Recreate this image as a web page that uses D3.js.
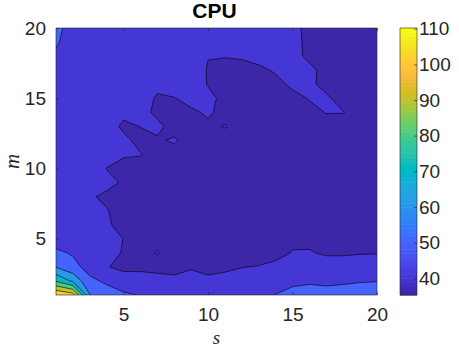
<!DOCTYPE html>
<html>
<head>
<meta charset="utf-8">
<script src="https://cdn.jsdelivr.net/npm/d3@7"></script>
<style>
  body { margin: 0; background: #fff; }
  svg { display: block; font-family: "Liberation Sans", Arial, Helvetica, sans-serif; }
</style>
</head>
<body>
<div class="chart"></div>
<script>
// grid axes
const sValues = [1, 2, 3, 4, 5, 6, 7, 8, 9, 10, 11, 12, 13, 14, 15, 16, 17, 18, 19, 20];
const mValues = [1, 2, 3, 4, 5, 6, 7, 8, 9, 10, 11, 12, 13, 14, 15, 16, 17, 18, 19, 20];

// CPU values, one row per m (top row m = 20, bottom row m = 1), columns s = 1..20
const cpuRows = [
  [52, 47, 45, 44.5, 44, 44, 44, 44, 44, 44, 44, 44, 44, 43, 41, 39, 37.5, 36.5, 36, 35.5],
  [51, 46, 45, 44.5, 44, 44, 44, 44, 44, 44, 44, 44, 44, 43, 41, 39.2, 37.5, 36.5, 36, 35.3],
  [48.5, 45.5, 45, 44.5, 44, 44, 44, 44, 44, 40.2, 40.2, 40.5, 42, 43, 41.2, 39.2, 37.5, 36.5, 36, 35.5],
  [47, 45, 44.5, 44, 44, 44, 44, 44, 44, 39.5, 38.5, 38.5, 38.8, 40.6, 43, 40.9, 38.8, 37, 36.5, 36],
  [46, 44.5, 44, 44, 44, 44, 41, 44, 43, 39.7, 38, 37.5, 38, 38.5, 41, 41, 38.5, 37, 36.5, 36],
  [45, 44, 44, 44, 44, 42, 39.5, 39.7, 42, 41.5, 38.5, 37.5, 37.5, 38, 38.5, 40.3, 40.8, 38, 37, 36.5],
  [45, 44, 44, 43.5, 41, 41.5, 39, 38, 39, 40.8, 38.2, 37, 37, 37, 37.5, 38.5, 40.2, 40.15, 38.5, 37],
  [45, 44, 43, 42, 39.2, 40.1, 41, 38.5, 37.5, 39, 40.3, 38, 37, 36.5, 36.5, 36.5, 38, 38, 37.5, 37],
  [45, 44, 43.5, 43, 41, 38.8, 39.5, 40.5, 38, 37, 38, 37, 36, 36, 36, 36, 37, 37.5, 37.5, 37],
  [45, 44, 43.5, 42, 40.3, 40.2, 38.5, 38.5, 37.5, 37, 37, 36.5, 36.5, 36, 36, 36.5, 37, 37, 37, 37],
  [45, 44, 42, 39.9, 39, 38.5, 38, 37.5, 37, 37, 36.5, 36.5, 36, 36, 36, 36.5, 36.5, 37, 37, 37],
  [45, 44, 43, 41, 39.6, 38.5, 38, 37.5, 37, 37, 36.5, 36.5, 36, 36, 36, 36.5, 36.5, 37, 37, 37],
  [45, 44, 40.4, 39.3, 38.5, 38, 37.5, 37.5, 37, 37, 36.5, 36.5, 36, 36, 36.5, 36.5, 37, 37, 37, 37.5],
  [45, 44, 43, 40.2, 38.5, 38, 37.5, 37.5, 37, 37, 36.5, 36.5, 36.5, 36.5, 36.5, 37, 37, 37, 37.5, 37.5],
  [45, 44, 43, 40.6, 38.6, 38, 37.5, 37.5, 37, 37, 37, 36.5, 36.5, 36.5, 37, 37, 37.5, 37.5, 38, 38],
  [45, 44, 43, 42, 39.9, 38.5, 38.5, 38, 37.5, 37.5, 37, 37, 37, 37, 38.5, 38.5, 38.5, 38.5, 39, 39],
  [52, 49, 45, 41.5, 39.7, 38.5, 40.3, 38, 38, 37.5, 37.5, 37.5, 37, 37.5, 40.4, 40.5, 39.2, 39.2, 39.7, 39.8],
  [59.5, 53, 46.5, 40.3, 38.5, 38.5, 37.5, 36.5, 39.2, 36.5, 38.2, 39.8, 40.3, 42, 42.5, 43, 43, 43, 42.5, 42.5],
  [79, 68, 52, 48.5, 43, 43, 43, 42.5, 43, 42.5, 43, 43, 44, 46, 47.9, 49, 48.3, 49, 49.6, 49.85],
  [110.2, 105, 60.5, 54, 52, 49.3, 47, 46, 45.5, 45.5, 46, 46.5, 47, 50.2, 53, 53, 53, 53, 53, 53]
];

const levels = [40, 50, 60, 70, 80, 90, 100, 110];
const xTicks = [5, 10, 15, 20];
const yTicks = [5, 10, 15, 20];
const cbarTicks = [40, 50, 60, 70, 80, 90, 100, 110];

// parula, 64 entries
const parula = [
  [0.2422,0.1504,0.6603],[0.2504,0.1650,0.7076],[0.2578,0.1818,0.7511],[0.2647,0.1978,0.7952],
  [0.2706,0.2147,0.8364],[0.2751,0.2342,0.8710],[0.2783,0.2559,0.8991],[0.2803,0.2782,0.9221],
  [0.2813,0.3006,0.9414],[0.2810,0.3228,0.9579],[0.2795,0.3447,0.9717],[0.2760,0.3667,0.9829],
  [0.2699,0.3892,0.9906],[0.2602,0.4123,0.9952],[0.2440,0.4358,0.9988],[0.2206,0.4603,0.9973],
  [0.1963,0.4847,0.9892],[0.1834,0.5074,0.9798],[0.1786,0.5289,0.9682],[0.1764,0.5499,0.9520],
  [0.1687,0.5703,0.9359],[0.1540,0.5902,0.9218],[0.1460,0.6091,0.9079],[0.1380,0.6276,0.8973],
  [0.1248,0.6459,0.8883],[0.1113,0.6635,0.8763],[0.0952,0.6798,0.8598],[0.0689,0.6948,0.8394],
  [0.0297,0.7082,0.8163],[0.0036,0.7203,0.7917],[0.0067,0.7312,0.7660],[0.0433,0.7411,0.7394],
  [0.0964,0.7500,0.7120],[0.1408,0.7584,0.6842],[0.1717,0.7670,0.6554],[0.1938,0.7758,0.6251],
  [0.2161,0.7843,0.5923],[0.2470,0.7918,0.5567],[0.2906,0.7973,0.5188],[0.3406,0.8008,0.4789],
  [0.3909,0.8029,0.4354],[0.4456,0.8024,0.3909],[0.5044,0.7993,0.3480],[0.5616,0.7942,0.3045],
  [0.6174,0.7876,0.2612],[0.6720,0.7793,0.2227],[0.7242,0.7698,0.1910],[0.7738,0.7598,0.1646],
  [0.8203,0.7498,0.1535],[0.8634,0.7406,0.1596],[0.9035,0.7330,0.1774],[0.9393,0.7288,0.2100],
  [0.9728,0.7298,0.2394],[0.9956,0.7434,0.2371],[0.9970,0.7659,0.2199],[0.9952,0.7893,0.2028],
  [0.9892,0.8136,0.1885],[0.9786,0.8386,0.1766],[0.9676,0.8639,0.1643],[0.9610,0.8890,0.1537],
  [0.9597,0.9135,0.1423],[0.9628,0.9373,0.1265],[0.9691,0.9606,0.1064],[0.9769,0.9839,0.0805]
];
const toRgb = c => d3.rgb(c[0] * 255, c[1] * 255, c[2] * 255).formatHex();

const width = 459;
const height = 348;
const plot = { left: 56, right: 377, top: 28, bottom: 295 };
const cbar = { left: 400, right: 417 };
const textColor = '#262626';
const tickFont = 19;

const grid = cpuRows.slice().reverse().flat(); // row 0 = m = 1
const [cmin, cmax] = d3.extent(grid);

function colorOf(v) {
  const i = Math.floor((v - cmin) / (cmax - cmin) * parula.length);
  return toRgb(parula[Math.max(0, Math.min(parula.length - 1, i))]);
}

const xScale = d3.scaleLinear()
  .domain([sValues[0], sValues[sValues.length - 1]])
  .range([plot.left, plot.right]);

const yScale = d3.scaleLinear()
  .domain([mValues[0], mValues[mValues.length - 1]])
  .range([plot.bottom, plot.top]);

const cScale = d3.scaleLinear()
  .domain([cmin, cmax])
  .range([plot.bottom, plot.top]);

const svg = d3.select('.chart')
  .append('svg')
  .attr('width', width)
  .attr('height', height);

svg.append('clipPath')
  .attr('id', 'plot-clip')
  .append('rect')
  .attr('x', plot.left)
  .attr('y', plot.top)
  .attr('width', plot.right - plot.left)
  .attr('height', plot.bottom - plot.top);

// grid coords: value k sits at k + 0.5
const proj = d3.geoTransform({
  point(x, y) {
    this.stream.point(xScale(sValues[0] + x - 0.5), yScale(mValues[0] + y - 0.5));
  }
});
const path = d3.geoPath(proj);

const contours = d3.contours()
  .size([sValues.length, mValues.length])
  .thresholds(levels)(grid);

const body = svg.append('g').attr('clip-path', 'url(#plot-clip)');

body.append('rect')
  .attr('x', plot.left)
  .attr('y', plot.top)
  .attr('width', plot.right - plot.left)
  .attr('height', plot.bottom - plot.top)
  .attr('fill', colorOf(cmin));

body.selectAll('path.fill')
  .data(contours)
  .join('path')
  .attr('class', 'fill')
  .attr('d', path)
  .attr('fill', d => colorOf(d.value))
  .attr('stroke', 'none');

body.selectAll('path.line')
  .data(contours)
  .join('path')
  .attr('class', 'line')
  .attr('d', path)
  .attr('fill', 'none')
  .attr('stroke', '#000')
  .attr('stroke-width', 0.6)
  .attr('stroke-linejoin', 'round');

// axes
function styleAxis(g) {
  g.attr('font-size', tickFont)
    .attr('font-family', '"Liberation Sans", Arial, Helvetica, sans-serif');
  g.select('.domain').remove();
  g.selectAll('.tick line').attr('stroke', textColor).attr('stroke-width', 0.6);
  g.selectAll('.tick text').attr('fill', textColor);
}

svg.append('g')
  .attr('transform', `translate(0, ${plot.bottom})`)
  .call(d3.axisBottom(xScale).tickValues(xTicks).tickSize(-3).tickPadding(13))
  .call(styleAxis);

svg.append('g')
  .attr('transform', `translate(0, ${plot.top})`)
  .call(d3.axisTop(xScale).tickValues(xTicks).tickSize(-3).tickFormat(''))
  .call(styleAxis);

svg.append('g')
  .attr('transform', `translate(${plot.left}, 0)`)
  .call(d3.axisLeft(yScale).tickValues(yTicks).tickSize(-3).tickPadding(10))
  .call(styleAxis);

svg.append('g')
  .attr('transform', `translate(${plot.right}, 0)`)
  .call(d3.axisRight(yScale).tickValues(yTicks).tickSize(-3).tickFormat(''))
  .call(styleAxis);

svg.append('rect')
  .attr('x', plot.left)
  .attr('y', plot.top)
  .attr('width', plot.right - plot.left)
  .attr('height', plot.bottom - plot.top)
  .attr('fill', 'none')
  .attr('stroke', textColor)
  .attr('stroke-width', 0.6);

// colorbar
const step = (cmax - cmin) / parula.length;
svg.append('g')
  .selectAll('rect')
  .data(parula)
  .join('rect')
  .attr('x', cbar.left)
  .attr('width', cbar.right - cbar.left)
  .attr('y', (c, i) => cScale(cmin + (i + 1) * step))
  .attr('height', (c, i) => cScale(cmin + i * step) - cScale(cmin + (i + 1) * step) + 0.5)
  .attr('fill', c => toRgb(c));

svg.append('g')
  .attr('transform', `translate(${cbar.right}, 0)`)
  .call(d3.axisRight(cScale).tickValues(cbarTicks).tickSize(-3).tickPadding(2))
  .call(styleAxis);

svg.append('rect')
  .attr('x', cbar.left)
  .attr('y', plot.top)
  .attr('width', cbar.right - cbar.left)
  .attr('height', plot.bottom - plot.top)
  .attr('fill', 'none')
  .attr('stroke', textColor)
  .attr('stroke-width', 0.6);

// labels
svg.append('text')
  .attr('x', (plot.left + plot.right) / 2 - 2)
  .attr('y', 18)
  .attr('text-anchor', 'middle')
  .attr('font-size', 21)
  .attr('font-weight', 'bold')
  .attr('fill', '#000')
  .text('CPU');

svg.append('text')
  .attr('x', (plot.left + plot.right) / 2)
  .attr('y', 344)
  .attr('text-anchor', 'middle')
  .attr('font-family', '"Liberation Serif", "DejaVu Serif", serif')
  .attr('font-style', 'italic')
  .attr('font-size', 19)
  .attr('fill', textColor)
  .text('s');

svg.append('text')
  .attr('transform', `translate(19, ${(plot.top + plot.bottom) / 2}) rotate(-90)`)
  .attr('text-anchor', 'middle')
  .attr('font-family', '"Liberation Serif", "DejaVu Serif", serif')
  .attr('font-style', 'italic')
  .attr('font-size', 21)
  .attr('fill', textColor)
  .text('m');
</script>
</body>
</html>
